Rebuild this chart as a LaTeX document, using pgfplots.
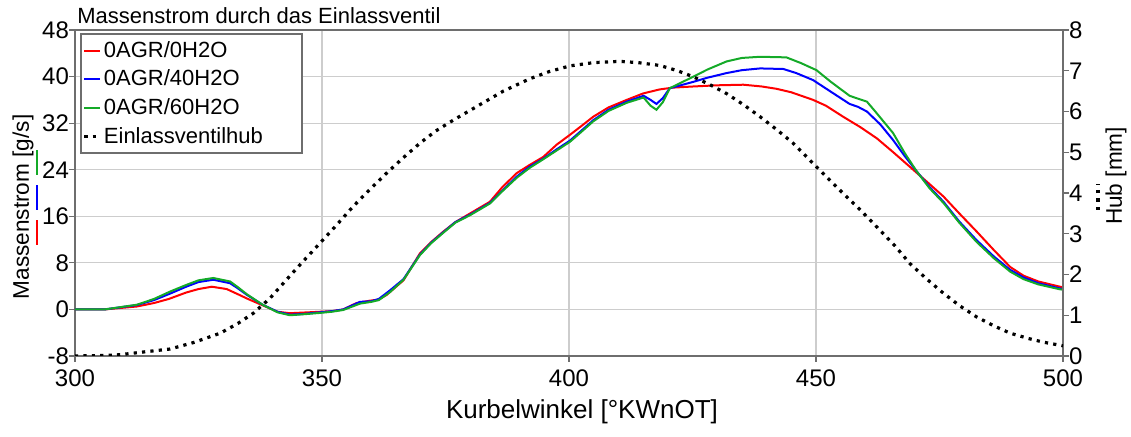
\documentclass[border=0pt]{standalone}
\usepackage{pgfplots}
\pgfplotsset{compat=1.18}
\usepackage{fontspec}
\setmainfont{Liberation Sans}
\usetikzlibrary{calc}

\definecolor{mgreen}{RGB}{20,170,40}
\definecolor{gridgray}{RGB}{205,205,205}
\definecolor{axgray}{RGB}{110,110,110}

\tikzset{liftline/.style={black, line width=1.6pt, dash pattern=on 1.6pt off 2.6pt}}

\begin{document}
\begin{tikzpicture}
% fixed page frame (axis box is 494pt x 163pt at the origin)
\path[use as bounding box] (-37.5pt,-40.5pt) rectangle (528pt,178pt);

\pgfplotsset{
  every axis/.append style={
    scale only axis, width=494pt, height=163pt,
    xmin=300, xmax=500,
    /pgf/number format/assume math mode=true,
    tick label style={font=\fontsize{12}{14}\selectfont},
    axis line style={axgray, line width=0.8pt},
    tick style={axgray, line width=0.6pt},
    tick align=outside, major tick length=3pt,
    yticklabel shift=-3.5pt, xticklabel shift=0.5pt,
  }
}

\begin{axis}[name=ax,
  ymin=-8, ymax=48, ytick={-8,0,...,48},
  xtick={300,350,...,500},
  xtick pos=bottom, ytick pos=left,
  grid=major, grid style={gridgray, line width=0.6pt},
]
% 0AGR/0H2O
\addplot[red, line width=1pt] coordinates {
(300,0) (306,0) (312.5,0.5) (316,1.1) (319,1.8) (322.5,2.9) (325,3.5) (327.7,3.9)
(330.7,3.5) (333,2.6) (335,1.8) (338,0.7) (341,-0.4) (343.5,-0.65) (346,-0.55)
(349.6,-0.4) (352,-0.3) (354.3,0) (357,1.1) (359.7,1.5) (361.5,1.7) (363.1,2.5)
(366.5,5.0) (369.8,9.6) (372,11.5) (374.6,13.4) (377,15) (380,16.5) (384,18.5)
(386.5,21) (389.4,23.4) (392,24.8) (394.8,26.2) (397.5,28.3) (400.2,30) (402.5,31.5)
(404.9,33.1) (408,34.7) (411.7,36) (415,37.1) (418.4,37.8) (421,38.1) (425.2,38.3)
(430,38.5) (435.3,38.6) (439,38.3) (442,37.9) (445,37.3) (449.4,36) (452,35)
(455.5,33.1) (459,31.3) (462.3,29.4) (465.5,27.1) (469,24.5) (472.5,21.9)
(475.8,19.4) (479,16.5) (482.5,13.4) (486,10.2) (489.3,7.3) (492,5.8) (495,4.8)
(499.4,3.9) (500,3.8)
};
% 0AGR/40H2O
\addplot[blue, line width=1pt] coordinates {
(300,0) (306,0) (312.5,0.75) (316,1.6) (319.2,2.7) (322.5,3.9) (325,4.7) (328,5.1)
(331.4,4.5) (333,3.6) (334.8,2.5) (338,0.8) (341,-0.4) (343.5,-0.9) (346,-0.8)
(349.6,-0.5) (352,-0.3) (354.3,0) (357.7,1.3) (360,1.4) (361.5,1.8) (363.8,3.3)
(366.5,5.2) (369.8,9.4) (372,11.4) (374.6,13.3) (377,15) (380,16.3) (384,18.3)
(386.5,20.4) (389.4,22.8) (392,24.5) (394.8,25.9) (397.5,27.5) (400.2,29.0)
(402.5,30.7) (404.9,32.5) (408,34.3) (411.7,35.7) (415.1,36.7) (416.5,36.0)
(417.7,35.3) (419,36.3) (420.4,38) (425.2,39.1) (428,39.8) (431.9,40.6) (435,41.1)
(438.7,41.4) (443.4,41.3) (446,40.6) (449.4,39.4) (453,37.4) (456.8,35.3)
(458.5,34.8) (460.3,34) (463,31.8) (465.6,29.1) (468,26.3) (470.4,23.7) (473,21.0)
(475.8,18.5) (479,15.1) (482.5,11.9) (486,9.1) (489.3,6.8) (492,5.5) (495,4.5)
(499.4,3.6) (500,3.5)
};
% 0AGR/60H2O
\addplot[mgreen, line width=1pt] coordinates {
(300,0) (306,0) (312.5,0.8) (316,1.8) (319.2,3.05) (322.5,4.2) (325,5.0) (328,5.4)
(331.4,4.8) (333,3.8) (334.8,2.6) (338,0.8) (341,-0.5) (343.5,-1.0) (346,-0.85)
(349.6,-0.6) (352,-0.4) (354.3,-0.1) (357.7,1.0) (360,1.3) (361.5,1.6) (363.8,3.0)
(366.5,5.1) (369.8,9.3) (372,11.3) (374.6,13.2) (377,14.9) (380,16.2) (384,18.2)
(386.5,20.3) (389.4,22.6) (392,24.3) (394.8,25.8) (397.5,27.3) (400.2,28.8)
(402.5,30.5) (404.9,32.3) (408,34.1) (411.7,35.5) (415.1,36.4) (416.5,35.0)
(417.7,34.3) (419,35.6) (420.4,38) (425.2,40) (428,41.2) (431.9,42.6) (435,43.2)
(438.7,43.4) (444,43.3) (447,42.3) (450.1,41.1) (453,39.1) (456.8,36.7)
(458.5,36.2) (460.3,35.7) (462,34) (465.6,30.3) (468,26.8) (470.4,23.7) (473,20.8)
(475.8,18.3) (479,14.9) (482.5,11.6) (486,8.8) (489.3,6.5) (492,5.2) (495,4.3)
(499.4,3.45) (500,3.4)
};
\end{axis}

\begin{axis}[
  ymin=0, ymax=8, ytick={0,...,8},
  axis x line=none, axis y line*=right,
  legend style={at={(axis description cs:0.005,0.99)}, anchor=north west,
    draw=axgray, line width=0.8pt, fill=white,
    font=\fontsize{11}{13}\selectfont, inner xsep=1pt, inner ysep=1.5pt,
    row sep=0.9pt, cells={anchor=west}, nodes={inner xsep=1pt}},
  legend image code/.code={\draw[#1] (0pt,0pt) -- (8pt,0pt);},
]
\addlegendimage{red, line width=1pt}
\addlegendentry{0AGR/0H2O}
\addlegendimage{blue, line width=1pt}
\addlegendentry{0AGR/40H2O}
\addlegendimage{mgreen, line width=1pt}
\addlegendentry{0AGR/60H2O}
% Einlassventilhub
\addplot[liftline] coordinates {
(300,0) (305,0.01) (309,0.03) (314,0.1) (319.2,0.17) (324,0.33) (329.4,0.56)
(333,0.8) (336.1,1.05) (339.5,1.42) (342.8,1.87) (346,2.3) (349.6,2.77) (353,3.22)
(356.3,3.67) (359.7,4.09) (363.1,4.49) (366.5,4.87) (369.8,5.22) (373,5.52)
(376.6,5.79) (381,6.1) (386.7,6.5) (392,6.8) (396,6.98) (400.2,7.12) (405,7.2)
(410.3,7.23) (414,7.2) (418.4,7.13) (422,7.0) (425.2,6.85) (428.5,6.66) (431.9,6.44)
(435.3,6.17) (438.7,5.87) (442,5.56) (445.4,5.22) (450.1,4.64) (455.5,3.99)
(459,3.58) (462.3,3.17) (466,2.7) (469,2.27) (472.5,1.88) (475.8,1.54) (479,1.24)
(482.5,0.96) (486,0.74) (489.3,0.56) (493,0.43) (496,0.34) (500,0.25)
};
\addlegendentry{\makebox[97pt][l]{Einlassventilhub}}
\end{axis}

% title and axis labels
\node[anchor=base west, font=\fontsize{11}{13}\selectfont, inner sep=0pt] at (1pt,166pt)
  {Massenstrom durch das Einlassventil};
\node[font=\fontsize{13}{15}\selectfont] at (253.5pt,-28pt) {Kurbelwinkel [°KWnOT]};
\node[rotate=90, font=\fontsize{11.3}{13}\selectfont] at (-26pt,74.5pt) {Massenstrom [g/s]};
\draw[red, line width=1pt] (-19pt,55.5pt) -- (-19pt,68pt);
\draw[blue, line width=1pt] (-19pt,73pt) -- (-19pt,85.5pt);
\draw[mgreen, line width=1pt] (-19pt,90.5pt) -- (-19pt,103pt);
\node[rotate=90, font=\fontsize{11.3}{13}\selectfont] at (520.5pt,90pt) {Hub [mm]};
\draw[liftline] (511.5pt,73pt) -- (511.5pt,86pt);
\end{tikzpicture}
\end{document}
